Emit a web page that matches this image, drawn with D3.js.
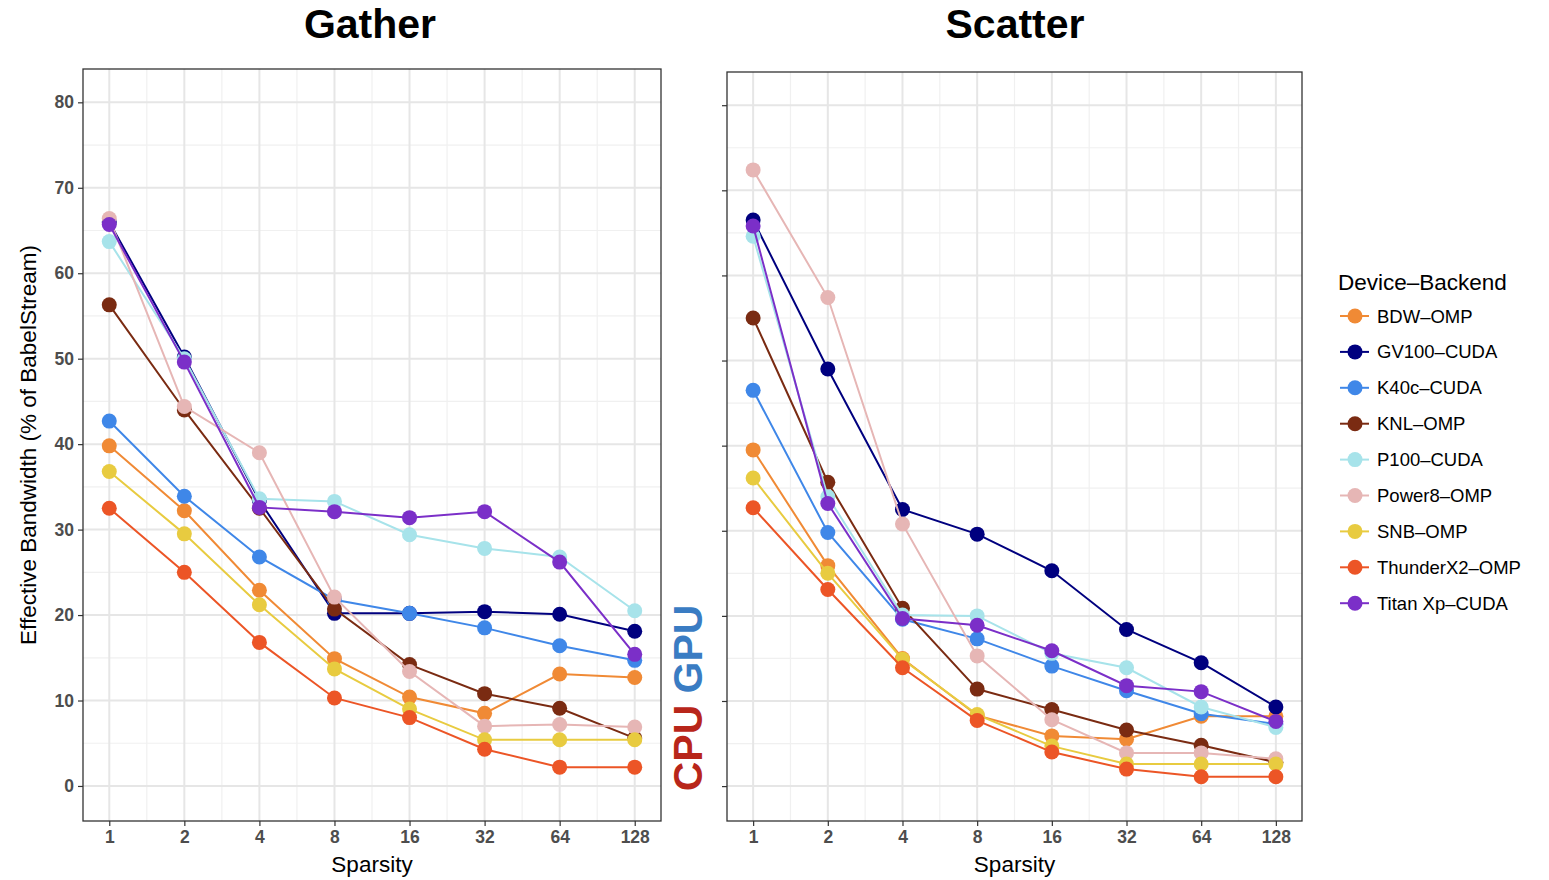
<!DOCTYPE html>
<html><head><meta charset="utf-8">
<script src="https://cdn.jsdelivr.net/npm/d3@7"></script>
<style>body{margin:0;background:#fff;font-family:"Liberation Sans",Arial,sans-serif;}</style>
</head><body>
<svg id="chart" width="1549" height="880"></svg>
<script>
const sparsity = [1, 2, 4, 8, 16, 32, 64, 128];
const series = ["BDW–OMP","GV100–CUDA","K40c–CUDA","KNL–OMP","P100–CUDA","Power8–OMP","SNB–OMP","ThunderX2–OMP","Titan Xp–CUDA"];
const colors = ["#F08A35","#00007F","#3F87E8","#7A2B12","#A7E3EA","#E6B6B5","#E8CB40","#EC5526","#7B2FC8"];
const yTicks = [0, 10, 20, 30, 40, 50, 60, 70, 80];
const panelTitles = ["Gather", "Scatter"];

// Gather values, one array per series (order as in `series`)
const gatherBDW = [39.8, 32.2, 22.9, 14.9, 10.4, 8.5, 13.1, 12.7];
const gatherGV100 = [66.0, 50.2, 33.4, 20.2, 20.2, 20.4, 20.1, 18.1];
const gatherK40c = [42.7, 33.9, 26.8, 21.8, 20.2, 18.5, 16.4, 14.7];
const gatherKNL = [56.3, 44.0, 32.5, 20.7, 14.2, 10.8, 9.1, 5.6];
const gatherP100 = [63.7, 50.0, 33.6, 33.3, 29.4, 27.8, 26.8, 20.5];
const gatherPower8 = [66.4, 44.4, 39.0, 22.1, 13.4, 7.0, 7.2, 6.9];
const gatherSNB = [36.8, 29.5, 21.2, 13.7, 9.0, 5.4, 5.4, 5.4];
const gatherThunderX2 = [32.5, 25.0, 16.8, 10.3, 8.0, 4.3, 2.2, 2.2];
const gatherTitanXp = [65.7, 49.6, 32.6, 32.1, 31.4, 32.1, 26.2, 15.4];

// Scatter values
const scatterBDW = [39.5, 25.9, 15.0, 8.3, 5.9, 5.5, 8.2, 8.2];
const scatterGV100 = [66.5, 49.0, 32.5, 29.6, 25.3, 18.4, 14.5, 9.3];
const scatterK40c = [46.5, 29.8, 19.6, 17.3, 14.1, 11.2, 8.5, 7.3];
const scatterKNL = [55.0, 35.7, 20.9, 11.4, 9.0, 6.6, 4.8, 2.8];
const scatterP100 = [64.6, 34.0, 20.1, 20.0, 15.6, 13.9, 9.3, 6.9];
const scatterPower8 = [72.4, 57.4, 30.8, 15.3, 7.8, 3.9, 3.9, 3.2];
const scatterSNB = [36.2, 25.0, 14.9, 8.4, 4.7, 2.6, 2.6, 2.6];
const scatterThunderX2 = [32.7, 23.1, 13.9, 7.7, 4.0, 2.0, 1.1, 1.1];
const scatterTitanXp = [65.8, 33.2, 19.7, 18.9, 15.9, 11.8, 11.1, 7.6];

const gatherData = [gatherBDW, gatherGV100, gatherK40c, gatherKNL, gatherP100, gatherPower8, gatherSNB, gatherThunderX2, gatherTitanXp];
const scatterData = [scatterBDW, scatterGV100, scatterK40c, scatterKNL, scatterP100, scatterPower8, scatterSNB, scatterThunderX2, scatterTitanXp];

const svg = d3.select("#chart");
const panels = [
  {title: panelTitles[0], data: gatherData, x0: 83, x1: 661, y0: 69, y1: 821, labels: true, titleX: 370},
  {title: panelTitles[1], data: scatterData, x0: 727, x1: 1302, y0: 72, y1: 821, labels: false, titleX: 1015}
];

panels.forEach(p => {
  const g = svg.append("g");
  const lx = d3.scaleLinear().domain([-0.35, 7.35]).range([p.x0, p.x1]);
  const x = v => lx(Math.log2(v));
  const y = d3.scaleLinear().domain([-4.1, 83.9]).range([p.y1, p.y0]);
  // grid
  const minorX = d3.range(0, 7, 1).map(d => d + 0.5);
  const minorY = d3.range(5, 85, 10);
  g.append("g").selectAll("line.mx").data(minorX).join("line")
    .attr("x1", d => lx(d)).attr("x2", d => lx(d)).attr("y1", p.y0).attr("y2", p.y1)
    .attr("stroke", "#f0f0f0").attr("stroke-width", 1.2);
  g.append("g").selectAll("line.my").data(minorY).join("line")
    .attr("x1", p.x0).attr("x2", p.x1).attr("y1", d => y(d)).attr("y2", d => y(d))
    .attr("stroke", "#f0f0f0").attr("stroke-width", 1.2);
  g.append("g").selectAll("line").data(sparsity).join("line")
    .attr("x1", d => x(d)).attr("x2", d => x(d)).attr("y1", p.y0).attr("y2", p.y1)
    .attr("stroke", "#e6e6e6").attr("stroke-width", 2);
  g.append("g").selectAll("line").data(yTicks).join("line")
    .attr("x1", p.x0).attr("x2", p.x1).attr("y1", d => y(d)).attr("y2", d => y(d))
    .attr("stroke", "#e6e6e6").attr("stroke-width", 2);

  // axes
  const xAxis = d3.axisBottom(lx).tickValues(sparsity.map(d => Math.log2(d)))
    .tickFormat(d => String(Math.pow(2, d))).tickSize(5).tickPadding(5);
  const ax = g.append("g").attr("transform", `translate(0,${p.y1})`).call(xAxis);
  const yAxis = d3.axisLeft(y).tickValues(yTicks).tickSize(5).tickPadding(4)
    .tickFormat(p.labels ? d3.format("d") : () => "");
  const ay = g.append("g").attr("transform", `translate(${p.x0},0)`).call(yAxis);
  [ax, ay].forEach(a => {
    a.select(".domain").remove();
    a.selectAll(".tick line").attr("stroke", "#333").attr("stroke-width", 1.2);
    a.selectAll(".tick text").attr("fill", "#4d4d4d").attr("font-size", 17.5).attr("font-weight", "bold")
      .attr("font-family", "Liberation Sans, Arial, sans-serif");
  });

  // lines & points
  const line = d3.line().x((d, i) => x(sparsity[i])).y(d => y(d));
  p.data.forEach((vals, si) => {
    g.append("path").datum(vals).attr("d", line).attr("fill", "none")
      .attr("stroke", colors[si]).attr("stroke-width", 2);
    g.append("g").selectAll("circle").data(vals).join("circle")
      .attr("cx", (d, i) => x(sparsity[i])).attr("cy", d => y(d)).attr("r", 7.5)
      .attr("fill", colors[si]);
  });

  // frame
  g.append("rect").attr("x", p.x0).attr("y", p.y0).attr("width", p.x1 - p.x0).attr("height", p.y1 - p.y0)
    .attr("fill", "none").attr("stroke", "#333").attr("stroke-width", 1.3);

  // titles
  svg.append("text").attr("x", p.titleX).attr("y", 38).attr("text-anchor", "middle")
    .attr("font-size", 41).attr("font-weight", "bold").attr("fill", "#000").text(p.title);
  svg.append("text").attr("x", (p.x0 + p.x1) / 2).attr("y", 872).attr("text-anchor", "middle")
    .attr("font-size", 22.5).attr("fill", "#000").text("Sparsity");
});

// y axis title
svg.append("text").attr("transform", "translate(36,445) rotate(-90)").attr("text-anchor", "middle")
  .attr("font-size", 22.5).attr("fill", "#000").text("Effective Bandwidth (% of BabelStream)");

// CPU / GPU labels
svg.append("text").attr("transform", "translate(702,748) rotate(-90)").attr("text-anchor", "middle")
  .attr("font-size", 41).attr("font-weight", "bold").attr("fill", "#B8261A").text("CPU");
svg.append("text").attr("transform", "translate(702,649) rotate(-90)").attr("text-anchor", "middle")
  .attr("font-size", 41).attr("font-weight", "bold").attr("fill", "#3A7CC3").text("GPU");

// legend
const lg = svg.append("g");
lg.append("text").attr("x", 1338).attr("y", 290).attr("font-size", 22.5).attr("fill", "#000").text("Device–Backend");
series.forEach((s, i) => {
  const yy = 316 + i * 35.9;
  lg.append("line").attr("x1", 1340).attr("x2", 1369).attr("y1", yy).attr("y2", yy)
    .attr("stroke", colors[i]).attr("stroke-width", 2);
  lg.append("circle").attr("cx", 1355).attr("cy", yy).attr("r", 7.5).attr("fill", colors[i]);
  lg.append("text").attr("x", 1377).attr("y", yy + 6.5).attr("font-size", 18.5).attr("fill", "#000").text(s);
});
</script>
</body></html>
